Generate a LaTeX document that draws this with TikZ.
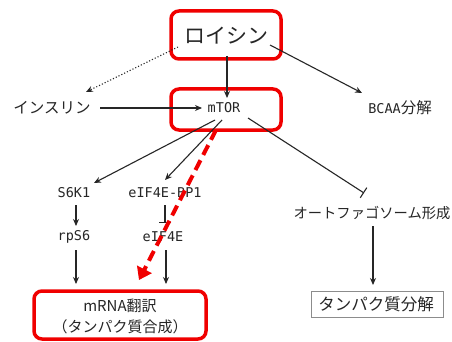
\documentclass[tikz,border=0pt]{standalone}
\usepackage{fontspec}
\setmainfont{Noto Sans CJK JP}
\newfontfamily\monof{DejaVu Sans Mono}
\usetikzlibrary{arrows.meta}
\definecolor{hlred}{HTML}{F00000}
\begin{document}
\begin{tikzpicture}[x=1pt,y=-1pt,
  lbl/.style={inner sep=1pt, font=\fontsize{15.5}{17}\selectfont, text=black!85},
  mlbl/.style={inner sep=1pt, font=\monof\fontsize{13.5}{15}\selectfont, text=black!85},
  redbox/.style={draw=hlred, line width=3.5pt, rounded corners=8pt},
  arr/.style={draw=black!85, line width=1.1pt, -{Stealth[length=7pt,width=6pt]}},
  inh/.style={draw=black!85, line width=1.1pt, -{Bar[width=12pt]}},
  dotarr/.style={arr, dotted, line width=1.1pt}]
\useasboundingbox (0,0) rectangle (452,342);
\fill[white] (0,0) rectangle (452,342);
% boxes
\draw[redbox] (171,11) rectangle (281,59);
\draw[redbox] (171,89) rectangle (281,130);
\draw[redbox] (34,291) rectangle (206,339);
\draw[black!45, line width=0.8pt] (311,291) rectangle (443,317);
% nodes
\node[lbl, font=\fontsize{21}{23}\selectfont] (leu) at (226,36) {ロイシン};
\node[mlbl] (mtor) at (224,108) {mTOR};
\node[lbl] (ins) at (52,108) {インスリン};
\node[lbl] (bcaa) at (400,108) {{\monof\fontsize{13.5}{15}\selectfont BCAA}分解};
\node[mlbl] (s6k) at (74,193) {S6K1};
\node[mlbl] (bp1) at (165,193) {eIF4E-BP1};
\node[mlbl] (rps) at (74,237) {rpS6};
\node[mlbl] (eif) at (163,237) {eIF4E};
\node[lbl, font=\fontsize{14.3}{16}\selectfont] (auto) at (372,213) {オートファゴソーム形成};
\node[lbl, align=center, font=\fontsize{15}{21}\selectfont] (mrna) at (120,316) {mRNA翻訳\\（タンパク質合成）};
\node[lbl, font=\fontsize{16.5}{18}\selectfont] (deg) at (376,304) {タンパク質分解};
% coordinates
\coordinate (leuL) at (178,47);
\coordinate (insT) at (86,92);
\coordinate (leuB) at (227,56);
\coordinate (mtorT) at (227,98);
\coordinate (leuR) at (270,45);
\coordinate (bcaaT) at (362,93);
\coordinate (insR) at (100,108);
\coordinate (mtorL) at (202,108);
\coordinate (mtorB) at (215,120);
\coordinate (mtorB2) at (222,120);
\coordinate (mtorB3) at (248,118);
\coordinate (s6kT) at (94,183);
\coordinate (bp1T) at (165,180);
\coordinate (autoT) at (364,193);
\coordinate (bp1B) at (165,205);
\coordinate (eifT) at (165,223);
\coordinate (s6kB) at (76,205);
\coordinate (rpsT) at (76,226);
\coordinate (rpsB) at (76,250);
\coordinate (mrnaT1) at (76,284);
\coordinate (eifB) at (166,250);
\coordinate (mrnaT2) at (166,284);
\coordinate (autoB) at (373,226);
\coordinate (degT) at (373,285);
\coordinate (rdS) at (216,130);
\coordinate (rdE) at (139,280);
% connectors
\draw[dotarr] (leuL) -- (insT);
\draw[arr] (leuB) -- (mtorT);
\draw[arr] (leuR) -- (bcaaT);
\draw[arr] (insR) -- (mtorL);
\draw[arr] (mtorB) -- (s6kT);
\draw[arr] (mtorB2) -- (bp1T);
\draw[inh] (mtorB3) -- (autoT);
\draw[inh] (bp1B) -- (eifT);
\draw[arr] (s6kB) -- (rpsT);
\draw[arr] (rpsB) -- (mrnaT1);
\draw[arr] (eifB) -- (mrnaT2);
\draw[arr] (autoB) -- (degT);
\draw[hlred, line width=4pt, dash pattern=on 11pt off 6pt, -{Triangle[length=12pt,width=16pt]}] (rdS) -- (rdE);
\end{tikzpicture}
\end{document}
